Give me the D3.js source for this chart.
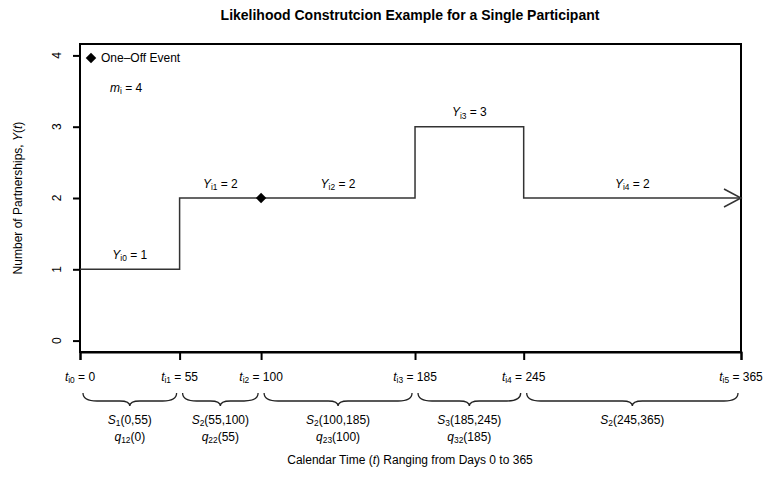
<!DOCTYPE html>
<html><head><meta charset="utf-8">
<script src="https://cdn.jsdelivr.net/npm/d3@7"></script>
<style>
body{margin:0;background:#fff;}
text{font-family:"Liberation Sans",Arial,Helvetica,sans-serif;fill:#000;}
</style></head>
<body><svg id="c" width="768" height="477"></svg>
<script>
// ---- data ----
const changeTimes = [0, 55, 100, 185, 245, 365];
const counts = [1, 2, 2, 3, 2];
const eventTimes = [100];
const eventCounts = [2];
const yTicks = [0, 1, 2, 3, 4];
const survStates = ["1", "2", "2", "3", "2"];
const transitions = ["12", "22", "23", "32", null];
const totalChanges = 4;

const svg = d3.select("#c");
const L = 80, R = 741, T = 44, B = 352;
const x = d3.scaleLinear().domain([0, 365]).range([L, R]);
const y = d3.scaleLinear().domain([-0.16, 4.16]).range([B, T]);

function label(parts, size, px, py, anchor, rot) {
  const t = svg.append("text").attr("font-size", size).attr("text-anchor", anchor || "middle");
  if (rot) t.attr("transform", `translate(${px},${py}) rotate(${rot})`);
  else t.attr("x", px).attr("y", py);
  let prevSub = false;
  parts.forEach(p => {
    const ts = t.append("tspan").text(p.t);
    if (p.i) ts.attr("font-style", "italic");
    if (p.s) { ts.attr("font-size", size * 0.7).attr("dy", size * 0.2); prevSub = true; }
    else if (prevSub) { ts.attr("dy", -size * 0.2); prevSub = false; }
  });
  return t;
}

// title
svg.append("text").attr("x", 410).attr("y", 20).attr("text-anchor", "middle")
  .attr("font-size", 14).attr("font-weight", "bold")
  .text("Likelihood Construtcion Example for a Single Participant");

// box
svg.append("rect").attr("x", L).attr("y", T).attr("width", R - L).attr("height", B - T)
  .attr("fill", "none").attr("stroke", "#000").attr("stroke-width", 2);

// y axis
const yAxis = d3.axisLeft(y).tickValues(yTicks).tickSize(7).tickFormat("");
const gy = svg.append("g").attr("transform", `translate(${L},0)`).call(yAxis);
gy.select(".domain").attr("stroke-width", 2).attr("d", `M0,${y(0)}V${y(4)}`);
gy.selectAll(".tick line").attr("stroke-width", 2);
yTicks.forEach(v => {
  svg.append("text").attr("transform", `translate(61,${y(v)}) rotate(-90)`)
    .attr("text-anchor", "middle").attr("font-size", 12).text(v);
});
label([{t:"Number of Partnerships, "},{t:"Y",i:true},{t:"("},{t:"t",i:true},{t:")"}], 12, 22, 198, "middle", -90);

// x axis
const xAxis = d3.axisBottom(x).tickValues(changeTimes).tickSize(8).tickFormat("");
const gx = svg.append("g").attr("transform", `translate(0,${B})`).call(xAxis);
gx.select(".domain").attr("stroke-width", 2);
gx.selectAll(".tick line").attr("stroke-width", 2);
changeTimes.forEach((t, i) => {
  label([{t:"t",i:true},{t:"i"+i,s:true},{t:" = " + t}], 12, x(t), 381, "middle");
});

// step line
const stepData = counts.map((c, i) => ({t: changeTimes[i], c}));
stepData.push({t: changeTimes[changeTimes.length - 1], c: counts[counts.length - 1]});
const line = d3.line().x(d => x(d.t)).y(d => y(d.c)).curve(d3.curveStepAfter);
svg.append("path").datum(stepData).attr("d", line).attr("fill", "none")
  .attr("stroke", "#333").attr("stroke-width", 1.5);
// arrow head
const ex = x(365), ey = y(counts[counts.length - 1]);
svg.append("path").attr("d", `M${ex - 17},${ey - 9}L${ex},${ey}L${ex - 17},${ey + 9}`)
  .attr("fill", "none").attr("stroke", "#333").attr("stroke-width", 1.5);

// diamond events
const sq = d3.symbol().type(d3.symbolSquare).size(55)();
eventTimes.forEach((t, i) => {
  svg.append("path").attr("d", sq)
    .attr("transform", `translate(${x(t)},${y(eventCounts[i])}) rotate(45)`).attr("fill", "#000");
});

// segment labels
counts.forEach((c, i) => {
  const mid = (changeTimes[i] + changeTimes[i + 1]) / 2;
  label([{t:"Y",i:true},{t:"i"+i,s:true},{t:" = " + c}], 12, x(mid), y(c + 0.2) + 4, "middle");
});

// legend
svg.append("path").attr("d", sq)
  .attr("transform", `translate(91,58) rotate(45)`).attr("fill", "#000");
svg.append("text").attr("x", 101).attr("y", 62).attr("font-size", 12).text("One\u2013Off Event");
label([{t:"m",i:true},{t:"i",s:true},{t:" = " + totalChanges}], 12, 110, 92, "start");

// braces
const yTop = 393, yMid = 401, yTip = 406;
for (let i = 0; i < counts.length; i++) {
  const x1 = x(changeTimes[i]) + 3, x2 = x(changeTimes[i + 1]) - 3, xm = (x1 + x2) / 2;
  const d = `M${x1},${yTop}Q${x1},${yMid} ${x1 + 14},${yMid}L${xm - 10},${yMid}` +
    `Q${xm},${yMid} ${xm},${yTip}Q${xm},${yMid} ${xm + 10},${yMid}` +
    `L${x2 - 14},${yMid}Q${x2},${yMid} ${x2},${yTop}`;
  svg.append("path").attr("d", d).attr("fill", "none").attr("stroke", "#222").attr("stroke-width", 1.3);
  const mid = x((changeTimes[i] + changeTimes[i + 1]) / 2);
  label([{t:"S",i:true},{t:survStates[i],s:true},{t:`(${changeTimes[i]},${changeTimes[i + 1]})`}], 12, mid, 424, "middle");
  if (transitions[i]) {
    label([{t:"q",i:true},{t:transitions[i],s:true},{t:`(${changeTimes[i]})`}], 12, mid, 441, "middle");
  }
}

// x title
label([{t:"Calendar Time ("},{t:"t",i:true},{t:") Ranging from Days 0 to 365"}], 12, 410, 464, "middle");
</script></body></html>
